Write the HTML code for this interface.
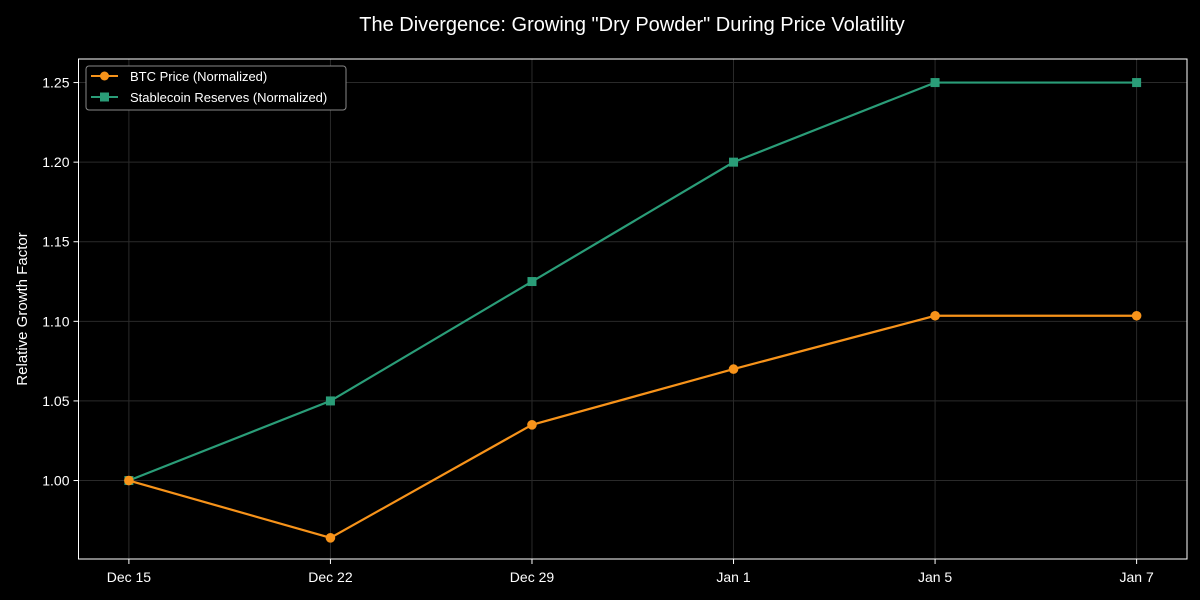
<!DOCTYPE html>
<html><head><meta charset="utf-8"><style>
html,body{margin:0;padding:0;background:#000;}
svg{display:block;font-family:"Liberation Sans",sans-serif;}
</style></head><body>
<svg id="chart" width="1200" height="600" viewBox="0 0 1200 600">
<rect width="1200" height="600" fill="#000"/>
<text x="632" y="31" fill="#fff" font-size="20" text-anchor="middle">The Divergence: Growing "Dry Powder" During Price Volatility</text>
<text transform="translate(27,309) rotate(-90)" fill="#fff" font-size="15" text-anchor="middle">Relative Growth Factor</text>
<g id="grid"></g><g id="axes"></g><g id="series"></g>
<g>
<rect x="86" y="66" width="260" height="44" rx="3" fill="#000" stroke="#888" stroke-width="1"/>
<line x1="91" y1="76" x2="118" y2="76" stroke="#f7931a" stroke-width="2"/>
<circle cx="104.5" cy="76" r="4.5" fill="#f7931a"/>
<text x="130" y="81" fill="#fff" font-size="13">BTC Price (Normalized)</text>
<line x1="91" y1="97" x2="118" y2="97" stroke="#2a9d78" stroke-width="2"/>
<rect x="100" y="92.5" width="9" height="9" fill="#2a9d78"/>
<text x="130" y="102" fill="#fff" font-size="13">Stablecoin Reserves (Normalized)</text>
</g>
</svg>
<script>
const categories = ["Dec 15","Dec 22","Dec 29","Jan 1","Jan 5","Jan 7"];
const btcValues = [1.00, 0.964, 1.035, 1.070, 1.1035, 1.1035];
const stableValues = [1.00, 1.05, 1.125, 1.20, 1.25, 1.25];
const yTicks = [1.00, 1.05, 1.10, 1.15, 1.20, 1.25];
const yTickLabels = ["1.00","1.05","1.10","1.15","1.20","1.25"];

const L=78.5,R=1187,T=59,B=559;
const xmin=-0.25,xmax=5.25,ymin=0.9507,ymax=1.2648;
const xs=i=>L+(i-xmin)/(xmax-xmin)*(R-L);
const ys=v=>B-(v-ymin)/(ymax-ymin)*(B-T);
const NS="http://www.w3.org/2000/svg";
function mk(tag,attrs,parent){const e=document.createElementNS(NS,tag);for(const k in attrs)e.setAttribute(k,attrs[k]);parent.appendChild(e);return e;}
const grid=document.getElementById('grid'),axes=document.getElementById('axes'),series=document.getElementById('series');
categories.forEach((c,i)=>{
  const x=xs(i);
  const g=mk('line',{x1:x,x2:x,y1:T,y2:B,stroke:'#2a2a2a','stroke-width':1},grid);
  
  
  mk('line',{x1:x,x2:x,y1:B,y2:B+5,stroke:'#fff','stroke-width':1},axes);
  const t=mk('text',{x:x,y:B+23,fill:'#fff','font-size':14,'text-anchor':'middle'},axes);
  t.textContent=c;
  
  
});
yTicks.forEach((v,i)=>{
  const y=ys(v);
  const g=mk('line',{x1:L,x2:R,y1:y,y2:y,stroke:'#2a2a2a','stroke-width':1},grid);
  
  
  mk('line',{x1:L-5,x2:L,y1:y,y2:y,stroke:'#fff','stroke-width':1},axes);
  const t=mk('text',{x:L-9,y:y+5,fill:'#fff','font-size':14,'text-anchor':'end'},axes);
  t.textContent=yTickLabels[i];
  
  
});
const frame=mk('rect',{x:L,y:T,width:R-L,height:B-T,fill:'none',stroke:'#fff','stroke-width':1},axes);


function drawSeries(vals,color,marker,name){
  const pts=vals.map((v,i)=>xs(i)+','+ys(v)).join(' ');
  const pl=mk('polyline',{points:pts,fill:'none',stroke:color,'stroke-width':2.2},series);
  
  
  vals.forEach((v,i)=>{
    let m;
    if(marker==='circle') m=mk('circle',{cx:xs(i),cy:ys(v),r:4.8,fill:color},series);
    else m=mk('rect',{x:xs(i)-4.5,y:ys(v)-4.5,width:9,height:9,fill:color},series);
    
    
  });
}
drawSeries(stableValues,'#2a9d78','square','stablecoin');
drawSeries(btcValues,'#f7931a','circle','btc');
</script>
</body></html>
